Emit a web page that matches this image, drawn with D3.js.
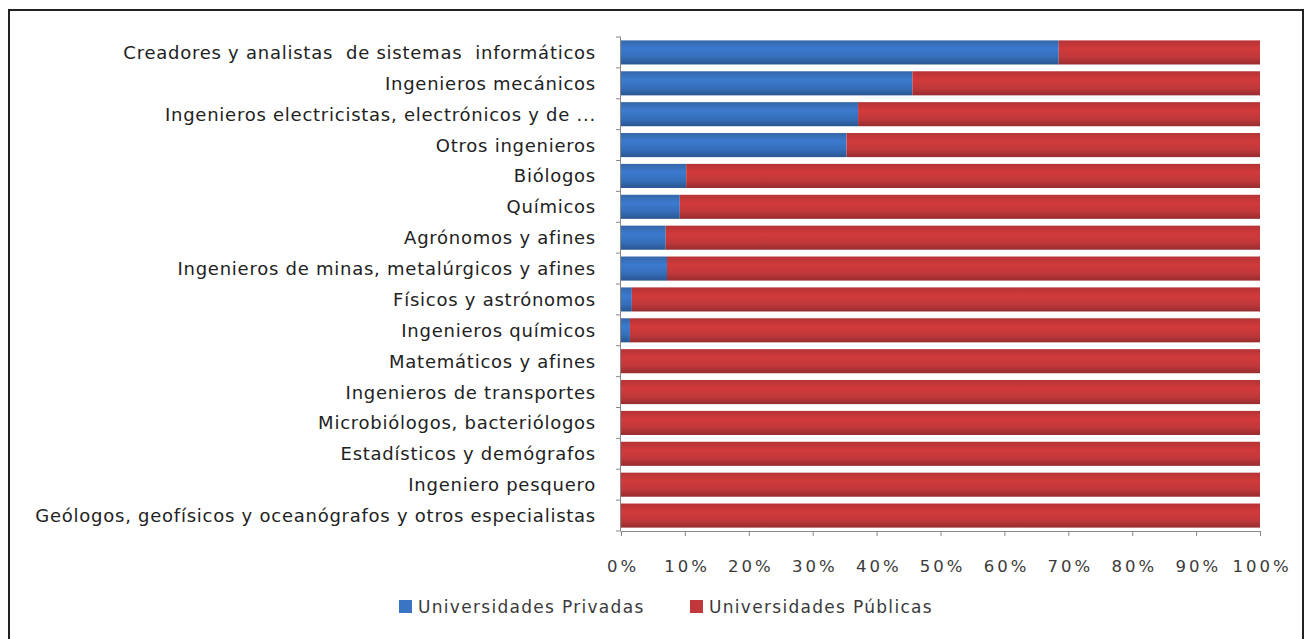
<!DOCTYPE html>
<html>
<head>
<meta charset="utf-8">
<script src="https://cdn.jsdelivr.net/npm/d3@7"></script>
<style>
  body { margin: 0; background: #fff; }
  .cat-label { font-family: "DejaVu Sans", Verdana, sans-serif; font-size: 18px; fill: #222; letter-spacing: 0.75px; white-space: pre; }
  .tick-label { font-family: "DejaVu Sans", Verdana, sans-serif; font-size: 16.5px; fill: #3a3a3a; letter-spacing: 3px; }
  .legend-label { font-family: "DejaVu Sans", Verdana, sans-serif; font-size: 17px; fill: #3a3a3a; letter-spacing: 1.3px; }
</style>
</head>
<body>
<svg id="chart"></svg>
<script>
// categories, top to bottom
const categories = [
  'Creadores y analistas  de sistemas  informáticos',
  'Ingenieros mecánicos',
  'Ingenieros electricistas, electrónicos y de ...',
  'Otros ingenieros',
  'Biólogos',
  'Químicos',
  'Agrónomos y afines',
  'Ingenieros de minas, metalúrgicos y afines',
  'Físicos y astrónomos',
  'Ingenieros químicos',
  'Matemáticos y afines',
  'Ingenieros de transportes',
  'Microbiólogos, bacteriólogos',
  'Estadísticos y demógrafos',
  'Ingeniero pesquero',
  'Geólogos, geofísicos y oceanógrafos y otros especialistas'
];

// share (%) in private universities; public = 100 - private
const privadas = [68.5, 45.6, 37.1, 35.3, 10.2, 9.2, 7.0, 7.2, 1.7, 1.4, 0, 0, 0, 0, 0, 0];
const publicas = privadas.map(v => 100 - v);

const seriesNames = ['Universidades Privadas', 'Universidades Públicas'];
const tickValues = [0, 10, 20, 30, 40, 50, 60, 70, 80, 90, 100];

const W = 1304, H = 639;
const margin = { top: 37, right: 44, bottom: 108, left: 621 };

const svg = d3.select('#chart').attr('width', W).attr('height', H);

// frame (top + left + right edges, bottom is cut off)
svg.append('path')
  .attr('d', `M9,${H + 5}V10H1303V${H + 5}`)
  .attr('fill', 'none')
  .attr('stroke', '#222')
  .attr('stroke-width', 2);

const defs = svg.append('defs');
function addGrad(id, stops) {
  const g = defs.append('linearGradient').attr('id', id)
    .attr('x1', 0).attr('y1', 0).attr('x2', 0).attr('y2', 1);
  stops.forEach(s => g.append('stop').attr('offset', s[0]).attr('stop-color', s[1]));
}
addGrad('gBlue', [[0, '#3567a8'], [0.35, '#3c7ad0'], [0.7, '#356eb9'], [1, '#2a5690']]);
addGrad('gRed', [[0, '#b53335'], [0.35, '#d23a3b'], [0.7, '#c0383a'], [1, '#962c2f']]);

const colors = ['url(#gBlue)', 'url(#gRed)'];
const legendColors = ['#3a74c4', '#c0383a'];

const width = W - margin.left - margin.right;
const height = H - margin.top - margin.bottom;

const x = d3.scaleLinear().domain([0, 100]).range([0, width]);
const y = d3.scaleBand().domain(categories).range([0, height]).paddingInner(0.22).paddingOuter(0.11);

const chart = svg.append('g').attr('transform', `translate(${margin.left},${margin.top})`);

const rows = categories.map((c, i) => ({ cat: c, Privadas: privadas[i], Publicas: publicas[i] }));
const stack = d3.stack().keys(['Privadas', 'Publicas'])(rows);

chart.selectAll('.series')
  .data(stack)
  .join('g')
  .attr('class', 'series')
  .attr('fill', (d, i) => colors[i])
  .selectAll('rect')
  .data(d => d)
  .join('rect')
  .attr('x', d => x(d[0]))
  .attr('y', d => y(d.data.cat))
  .attr('width', d => Math.max(0, x(d[1]) - x(d[0])))
  .attr('height', y.bandwidth());

// y axis line and ticks between categories
const yAxisG = chart.append('g');
yAxisG.append('line')
  .attr('x1', -0.5).attr('x2', -0.5).attr('y1', 0).attr('y2', height)
  .attr('stroke', '#888');
d3.range(categories.length + 1).forEach(i => {
  yAxisG.append('line')
    .attr('x1', -5).attr('x2', 0)
    .attr('y1', i * height / categories.length).attr('y2', i * height / categories.length)
    .attr('stroke', '#888');
});

// category labels
chart.selectAll('.cat-label')
  .data(categories)
  .join('text')
  .attr('class', 'cat-label')
  .attr('x', -25)
  .attr('y', d => y(d) + y.bandwidth() / 2)
  .attr('dy', '0.36em')
  .attr('text-anchor', 'end')
  .text(d => d);

// x axis
const xAxis = d3.axisBottom(x)
  .tickValues(tickValues)
  .tickSize(5)
  .tickPadding(24)
  .tickFormat(d => d + '%');

const xAxisG = chart.append('g')
  .attr('transform', `translate(0,${height})`)
  .call(xAxis);
xAxisG.select('.domain').attr('stroke', '#888');
xAxisG.selectAll('.tick line').attr('stroke', '#888');
xAxisG.selectAll('.tick text').attr('class', 'tick-label').attr('fill', null).attr('dx', '0.1em');
xAxisG.attr('font-size', null).attr('font-family', null);

// legend
const legend = svg.append('g').attr('transform', 'translate(399,600)');
const legendX = [0, 291];
seriesNames.forEach((name, i) => {
  const g = legend.append('g').attr('transform', `translate(${legendX[i]},0)`);
  g.append('rect').attr('width', 13).attr('height', 13).attr('fill', legendColors[i]);
  g.append('text').attr('class', 'legend-label').attr('x', 19).attr('y', 7).attr('dy', '0.36em').text(name);
});
</script>
</body>
</html>
